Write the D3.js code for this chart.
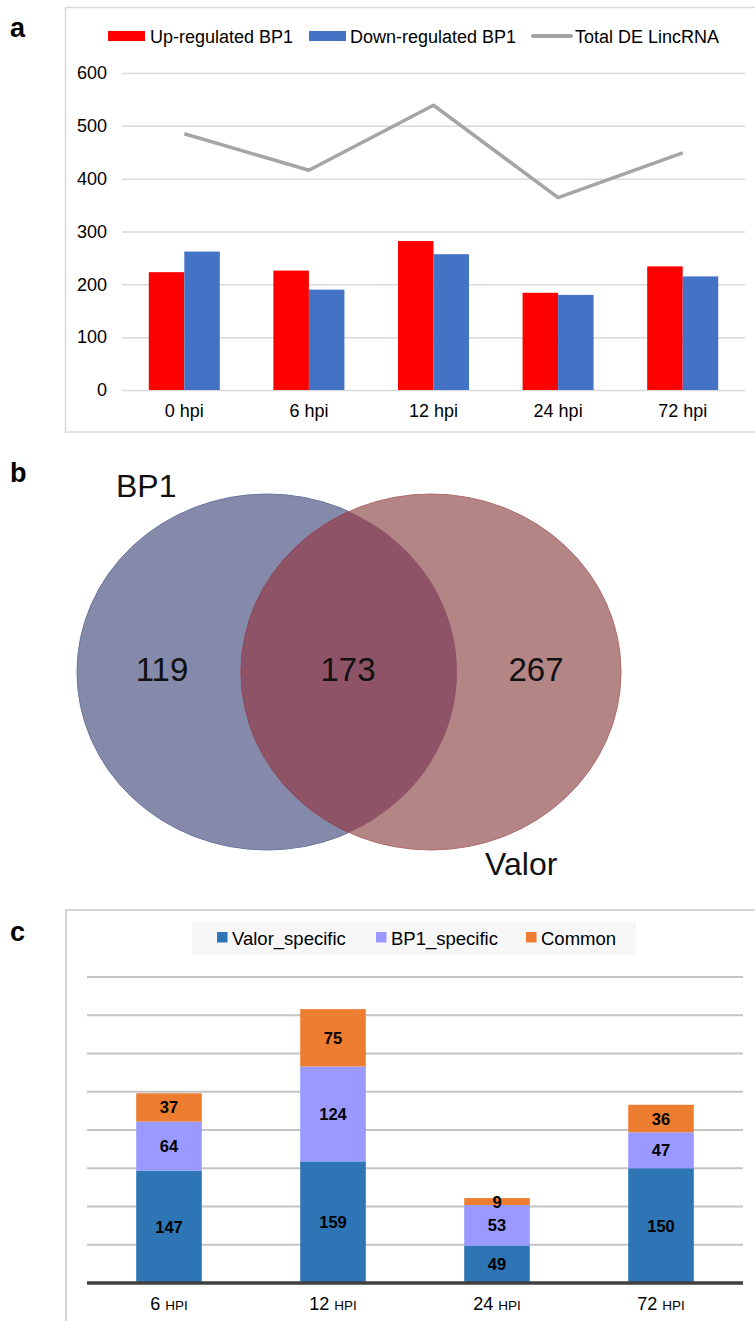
<!DOCTYPE html>
<html>
<head>
<meta charset="utf-8">
<script src="https://cdn.jsdelivr.net/npm/d3@7"></script>
<style>
  html, body { margin: 0; padding: 0; background: #fff; }
  svg { display: block; font-family: "Liberation Sans", Arial, sans-serif; }
</style>
</head>
<body>
<svg id="chart" width="755" height="1321"></svg>
<script>
// ---------- Panel a data ----------
const aCategories = ["0 hpi", "6 hpi", "12 hpi", "24 hpi", "72 hpi"];
const aUpBP1 = [223, 226, 282, 184, 234];
const aDownBP1 = [262, 190, 257, 180, 215];
const aTotalDE = [485, 416, 539, 364, 449];
const aTicks = [0, 100, 200, 300, 400, 500, 600];
const aLegend = ["Up-regulated BP1", "Down-regulated BP1", "Total DE LincRNA"];

// ---------- Panel b data ----------
const vennSets = ["BP1", "Valor"];
const vennCounts = [119, 173, 267]; // BP1 only, both, Valor only

// ---------- Panel c data ----------
const cCategories = ["6", "12", "24", "72"];
const cUnit = "HPI";
const cValorSpecific = [147, 159, 49, 150];
const cBP1Specific = [64, 124, 53, 47];
const cCommon = [37, 75, 9, 36];
const cSeries = ["Valor_specific", "BP1_specific", "Common"];
const cGridTicks = [50, 100, 150, 200, 250, 300, 350, 400];

const svg = d3.select("#chart");

// ================= PANEL A =================
(function () {
  const g = svg.append("g");
  g.append("rect").attr("x", 65.5).attr("y", 7.5).attr("width", 720).attr("height", 424.5)
    .attr("fill", "none").attr("stroke", "#d9d9d9").attr("stroke-width", 1.5);
  g.append("text").attr("x", 10).attr("y", 37).text("a")
    .attr("font-size", 27).attr("font-weight", "bold").attr("fill", "#000");

  const x = d3.scaleBand().domain(aCategories).range([122, 745]).paddingInner(0.43).paddingOuter(0.215);
  const x0 = d3.scaleBand().domain(aCategories).range([122, 745]);
  const y = d3.scaleLinear().domain([0, 600]).range([390, 73]);

  // gridlines
  const yAxis = d3.axisLeft(y).tickValues(aTicks).tickSize(-(745 - 122)).tickPadding(15);
  const ya = g.append("g").attr("transform", "translate(122,0)").call(yAxis);
  ya.select(".domain").remove();
  ya.selectAll(".tick line").attr("stroke", "#d9d9d9").attr("stroke-width", 1.5);
  ya.selectAll(".tick text").attr("font-size", 18).attr("fill", "#000")
    .attr("font-family", "Liberation Sans, Arial, sans-serif");

  const xAxis = d3.axisBottom(x0).tickSize(0).tickPadding(14);
  const xa = g.append("g").attr("transform", "translate(0,390)").call(xAxis);
  xa.select(".domain").remove();
  xa.selectAll(".tick text").attr("font-size", 18).attr("fill", "#000")
    .attr("font-family", "Liberation Sans, Arial, sans-serif");

  const bw = x.bandwidth() / 2;
  g.append("g").selectAll("rect").data(aCategories).join("rect")
    .attr("x", d => x(d)).attr("width", bw)
    .attr("y", (d, i) => y(aUpBP1[i])).attr("height", (d, i) => y(0) - y(aUpBP1[i]))
    .attr("fill", "#ff0000");
  g.append("g").selectAll("rect").data(aCategories).join("rect")
    .attr("x", d => x(d) + bw).attr("width", bw)
    .attr("y", (d, i) => y(aDownBP1[i])).attr("height", (d, i) => y(0) - y(aDownBP1[i]))
    .attr("fill", "#4472c4");

  const line = d3.line().x((d, i) => x0(aCategories[i]) + x0.bandwidth() / 2).y(d => y(d));
  g.append("path").datum(aTotalDE).attr("d", line).attr("fill", "none")
    .attr("stroke", "#a5a5a5").attr("stroke-width", 3.5).attr("stroke-linejoin", "round");

  // legend
  const leg = g.append("g").attr("font-size", 18);
  const items = [
    { sx: 108, tx: 150, color: "#ff0000", type: "rect" },
    { sx: 309, tx: 350, color: "#4472c4", type: "rect" },
    { sx: 533, tx: 575, color: "#a5a5a5", type: "line" }
  ];
  items.forEach((it, i) => {
    if (it.type === "rect") {
      leg.append("rect").attr("x", it.sx).attr("y", 31).attr("width", 37).attr("height", 10).attr("fill", it.color);
    } else {
      leg.append("line").attr("x1", it.sx).attr("x2", it.sx + 38).attr("y1", 36).attr("y2", 36)
        .attr("stroke", it.color).attr("stroke-width", 4).attr("stroke-linecap", "round");
    }
    leg.append("text").attr("x", it.tx).attr("y", 42.5).text(aLegend[i]).attr("fill", "#000");
  });
})();

// ================= PANEL B =================
(function () {
  const g = svg.append("g");
  g.append("text").attr("x", 10).attr("y", 482).text("b")
    .attr("font-size", 27).attr("font-weight", "bold").attr("fill", "#000");

  const left = { cx: 267, cy: 672, rx: 190, ry: 178 };
  const right = { cx: 431, cy: 672, rx: 190, ry: 178 };

  const defs = svg.append("defs");
  defs.append("clipPath").attr("id", "clipLeft").append("ellipse")
    .attr("cx", left.cx).attr("cy", left.cy).attr("rx", left.rx).attr("ry", left.ry);

  g.append("ellipse").attr("cx", left.cx).attr("cy", left.cy).attr("rx", left.rx).attr("ry", left.ry)
    .attr("fill", "#868aaa").attr("stroke", "#6a75a0").attr("stroke-width", 1);
  g.append("ellipse").attr("cx", right.cx).attr("cy", right.cy).attr("rx", right.rx).attr("ry", right.ry)
    .attr("fill", "#b38585").attr("stroke", "#b06a6a").attr("stroke-width", 1);
  g.append("ellipse").attr("clip-path", "url(#clipLeft)")
    .attr("cx", right.cx).attr("cy", right.cy).attr("rx", right.rx).attr("ry", right.ry)
    .attr("fill", "#8e5367").attr("stroke", "#8a4a60").attr("stroke-width", 1);

  const cx = [162, 348, 536];
  g.append("g").selectAll("text").data(vennCounts).join("text")
    .attr("x", (d, i) => cx[i]).attr("y", 681).attr("text-anchor", "middle")
    .attr("font-size", 33).attr("fill", "#111").text(d => d);

  g.append("text").attr("x", 116).attr("y", 497).attr("font-size", 32).attr("fill", "#111").text(vennSets[0]);
  g.append("text").attr("x", 485).attr("y", 875).attr("font-size", 32).attr("fill", "#111").text(vennSets[1]);
})();

// ================= PANEL C =================
(function () {
  const g = svg.append("g");
  g.append("rect").attr("x", 66).attr("y", 910).attr("width", 720).attr("height", 430)
    .attr("fill", "none").attr("stroke", "#c8c8c8").attr("stroke-width", 1.5);
  g.append("text").attr("x", 10).attr("y", 941).text("c")
    .attr("font-size", 27).attr("font-weight", "bold").attr("fill", "#000");

  const x = d3.scaleBand().domain(cCategories).range([87, 743]).paddingInner(0.6).paddingOuter(0.3);
  const y = d3.scaleLinear().domain([0, 400]).range([1283, 977]);

  g.append("g").selectAll("line").data(cGridTicks).join("line")
    .attr("x1", 87).attr("x2", 743).attr("y1", d => y(d)).attr("y2", d => y(d))
    .attr("stroke", "#c4c4c4").attr("stroke-width", 1.8);

  const rows = cCategories.map((c, i) => ({ cat: c, Valor_specific: cValorSpecific[i], BP1_specific: cBP1Specific[i], Common: cCommon[i] }));
  const stack = d3.stack().keys(cSeries)(rows);
  const colors = { Valor_specific: "#2e75b6", BP1_specific: "#9999ff", Common: "#ed7d31" };

  const layers = g.append("g").selectAll("g").data(stack).join("g").attr("fill", s => colors[s.key]);
  layers.selectAll("rect").data(s => s).join("rect")
    .attr("x", d => x(d.data.cat)).attr("width", x.bandwidth())
    .attr("y", d => y(d[1])).attr("height", d => y(d[0]) - y(d[1]));

  const labels = g.append("g").attr("font-size", 16.5).attr("font-weight", "bold").attr("text-anchor", "middle").attr("fill", "#000");
  stack.forEach(s => {
    labels.selectAll(null).data(s).join("text")
      .attr("x", d => x(d.data.cat) + x.bandwidth() / 2)
      .attr("y", d => (y(d[0]) + y(d[1])) / 2 + 6)
      .text(d => d[1] - d[0]);
  });

  // axis
  g.append("line").attr("x1", 87).attr("x2", 743).attr("y1", 1283).attr("y2", 1283)
    .attr("stroke", "#404040").attr("stroke-width", 3.5);

  const xl = g.append("g").selectAll("text").data(cCategories).join("text")
    .attr("x", d => x(d) + x.bandwidth() / 2).attr("y", 1310).attr("text-anchor", "middle")
    .attr("font-size", 18).attr("fill", "#000");
  xl.append("tspan").text(d => d + " ");
  xl.append("tspan").attr("font-size", 13.5).text(cUnit);

  // legend
  g.append("rect").attr("x", 192).attr("y", 922).attr("width", 444).attr("height", 33).attr("fill", "#f7f7f7");
  const lx = [217, 376, 526];
  cSeries.forEach((k, i) => {
    g.append("rect").attr("x", lx[i]).attr("y", 932).attr("width", 10.5).attr("height", 10.5).attr("fill", colors[k]);
    g.append("text").attr("x", lx[i] + 15).attr("y", 945).attr("font-size", 18.5).attr("fill", "#000").text(k);
  });
})();
</script>
</body>
</html>
